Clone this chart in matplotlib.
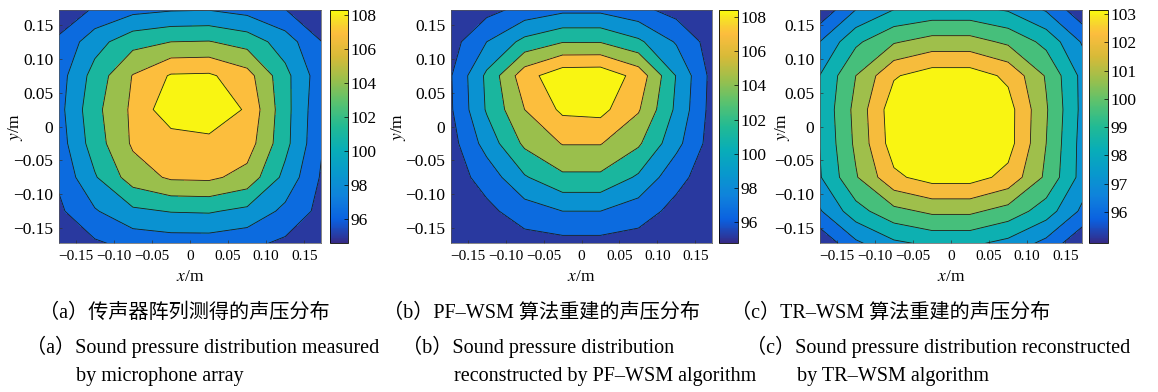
import matplotlib
matplotlib.use("Agg")
import matplotlib.pyplot as plt
import numpy as np
from matplotlib.colors import LinearSegmentedColormap, Normalize
from matplotlib.cm import ScalarMappable

plt.rcParams['mathtext.fontset'] = 'stix'
plt.rcParams['font.family'] = ['Liberation Serif', 'Noto Sans CJK SC']

# microphone grid (m), rows listed from top (y = 0.175) to bottom
x_m = [-0.175, -0.125, -0.075, -0.025, 0.025, 0.075, 0.125, 0.175]
y_m = [0.175, 0.125, 0.075, 0.025, -0.025, -0.075, -0.125, -0.175]

# sound pressure level (dB)
spl_a = [
    [94.9, 96.1, 97.2, 97.6, 97.7, 97.1, 95.9, 94.8],
    [96.2, 99.2, 101.3, 102.0, 102.1, 101.2, 99.0, 95.9],
    [96.9, 100.8, 104.1, 106.2, 106.3, 104.8, 100.6, 96.6],
    [97.1, 101.4, 104.4, 107.4, 107.8, 105.7, 100.7, 96.2],
    [96.8, 101.0, 104.3, 104.9, 105.3, 105.0, 100.6, 96.0],
    [96.2, 99.8, 103.0, 104.3, 104.4, 103.3, 99.4, 95.6],
    [95.5, 97.8, 99.6, 100.1, 100.2, 99.5, 97.5, 95.3],
    [94.6, 95.6, 96.5, 96.8, 96.8, 96.4, 95.5, 94.7],
]
spl_b = [
    [94.8, 95.2, 96.5, 97.3, 97.3, 96.4, 95.1, 94.8],
    [95.0, 98.0, 100.6, 101.9, 101.9, 100.4, 97.8, 94.9],
    [95.6, 100.4, 105.2, 107.3, 107.4, 105.3, 99.9, 95.1],
    [95.5, 100.2, 104.0, 106.4, 106.6, 104.2, 99.6, 95.0],
    [95.0, 98.8, 102.4, 104.1, 104.1, 102.3, 98.6, 94.9],
    [94.9, 96.8, 99.8, 101.6, 101.6, 99.7, 96.6, 94.8],
    [94.8, 95.5, 97.0, 98.0, 98.0, 96.9, 95.4, 94.8],
    [94.8, 94.9, 95.1, 95.2, 95.2, 95.1, 94.9, 94.8],
]
spl_c = [
    [95.0, 96.9, 97.9, 98.2, 98.2, 97.8, 96.8, 95.1],
    [96.9, 98.8, 99.9, 100.4, 100.4, 99.8, 98.7, 96.8],
    [97.9, 100.0, 101.9, 102.5, 102.5, 101.8, 99.9, 97.6],
    [98.0, 100.3, 102.6, 103.1, 103.1, 102.4, 100.1, 97.6],
    [97.9, 100.2, 102.5, 103.0, 103.1, 102.4, 100.0, 97.5],
    [97.8, 99.9, 101.8, 102.4, 102.4, 101.7, 99.8, 97.5],
    [96.8, 98.6, 99.7, 100.2, 100.2, 99.6, 98.5, 96.7],
    [95.0, 96.7, 97.7, 98.1, 98.1, 97.6, 96.6, 95.0],
]

levels_ab = [96, 98, 100, 102, 104, 106]
levels_c = [96, 97, 98, 99, 100, 101, 102]
cbar_ranges = [(94.6, 108.3), (94.8, 108.4), (94.9, 103.14)]
cbar_ticks_ab = [96, 98, 100, 102, 104, 106, 108]
cbar_ticks_c = [96, 97, 98, 99, 100, 101, 102, 103]
axis_ticks = [-0.15, -0.10, -0.05, 0, 0.05, 0.10, 0.15]
axis_ticklabels = ['\u22120.15', '\u22120.10', '\u22120.05', '0', '0.05', '0.10', '0.15']

captions_cn = ['（a）传声器阵列测得的声压分布',
               '（b）PF–WSM 算法重建的声压分布',
               '（c）TR–WSM 算法重建的声压分布']
captions_en = [('（a）Sound pressure distribution measured', 'by microphone array'),
               ('（b）Sound pressure distribution', 'reconstructed by PF–WSM algorithm'),
               ('（c）Sound pressure distribution reconstructed', 'by TR–WSM algorithm')]

# parula-like colormap
parula = LinearSegmentedColormap.from_list('parula', [
    (0.00, (0.208, 0.166, 0.529)),
    (0.10, (0.040, 0.380, 0.880)),
    (0.20, (0.060, 0.510, 0.860)),
    (0.30, (0.030, 0.600, 0.800)),
    (0.40, (0.030, 0.680, 0.720)),
    (0.50, (0.130, 0.730, 0.580)),
    (0.60, (0.340, 0.760, 0.440)),
    (0.70, (0.600, 0.750, 0.300)),
    (0.80, (0.840, 0.730, 0.220)),
    (0.90, (0.990, 0.740, 0.240)),
    (0.95, (0.970, 0.850, 0.170)),
    (1.00, (0.976, 0.983, 0.054)),
])
band_pos_ab = [0.03, 0.13, 0.27, 0.47, 0.70, 0.90, 0.99]
band_pos_c = [0.03, 0.14, 0.27, 0.42, 0.57, 0.71, 0.88, 0.99]

W, H = 1158, 392
fig = plt.figure(figsize=(W / 100, H / 100), dpi=100)


def px(l, t, r, b):
    return [l / W, 1 - b / H, (r - l) / W, (b - t) / H]


panels = [
    dict(z=spl_a, lv=levels_ab, pos=band_pos_ab, ax=px(59, 10, 321, 243),
         cax=px(330, 10, 348, 243), ticks=cbar_ticks_ab, ylab=-0.13),
    dict(z=spl_b, lv=levels_ab, pos=band_pos_ab, ax=px(451, 10, 712, 243),
         cax=px(719, 10, 738, 243), ticks=cbar_ticks_ab, ylab=-0.165),
    dict(z=spl_c, lv=levels_c, pos=band_pos_c, ax=px(820, 10, 1082, 243),
         cax=px(1089, 10, 1108, 243), ticks=cbar_ticks_c, ylab=-0.105),
]

X, Y = np.meshgrid(x_m, y_m)
for i, p in enumerate(panels):
    ax = fig.add_axes(p['ax'])
    Z = np.array(p['z'])
    fill_levels = [80] + p['lv'] + [120]
    ax.contourf(X, Y, Z, levels=fill_levels, colors=[parula(v) for v in p['pos']])
    ax.contour(X, Y, Z, levels=p['lv'], colors='#1c1c1c', linewidths=0.6)
    ax.set_xlim(-0.172, 0.172)
    ax.set_ylim(-0.172, 0.172)
    ax.set_xticks(axis_ticks)
    ax.set_xticklabels(axis_ticklabels, fontsize=11)
    ax.set_yticks(axis_ticks)
    ax.set_yticklabels(axis_ticklabels, fontsize=12.5)
    ax.tick_params(direction='in', length=2.5, width=0.5, color='#333333')
    ax.tick_params(axis='x', pad=5)
    ax.tick_params(axis='y', pad=4)
    for s in ax.spines.values():
        s.set_linewidth(0.5)
        s.set_color('#555555')
    ax.set_ylabel('$y$/m', fontsize=12.5)
    ax.yaxis.set_label_coords(p['ylab'], 0.5)
    ax.set_xlabel('$x$/m', fontsize=12.5)
    ax.xaxis.set_label_coords(0.5, -0.11)

    cax = fig.add_axes(p['cax'])
    sm = ScalarMappable(norm=Normalize(*cbar_ranges[i]), cmap=parula)
    cb = fig.colorbar(sm, cax=cax, ticks=p['ticks'])
    cb.ax.tick_params(direction='in', length=3, width=0.5, labelsize=12.5, pad=2)
    cb.outline.set_linewidth(0.6)

# captions
cn_x = [39, 383, 731]
en_x = [26, 402, 746]
en2_x = [76, 454, 797]
for i in range(3):
    fig.text(cn_x[i] / W, 1 - 313 / H, captions_cn[i], fontsize=14.5, va='center')
    fig.text(en_x[i] / W, 1 - 347 / H, captions_en[i][0], fontsize=14.5, va='center')
    fig.text(en2_x[i] / W, 1 - 376 / H, captions_en[i][1], fontsize=14.5, va='center')

fig.savefig('out.png', dpi=100)
